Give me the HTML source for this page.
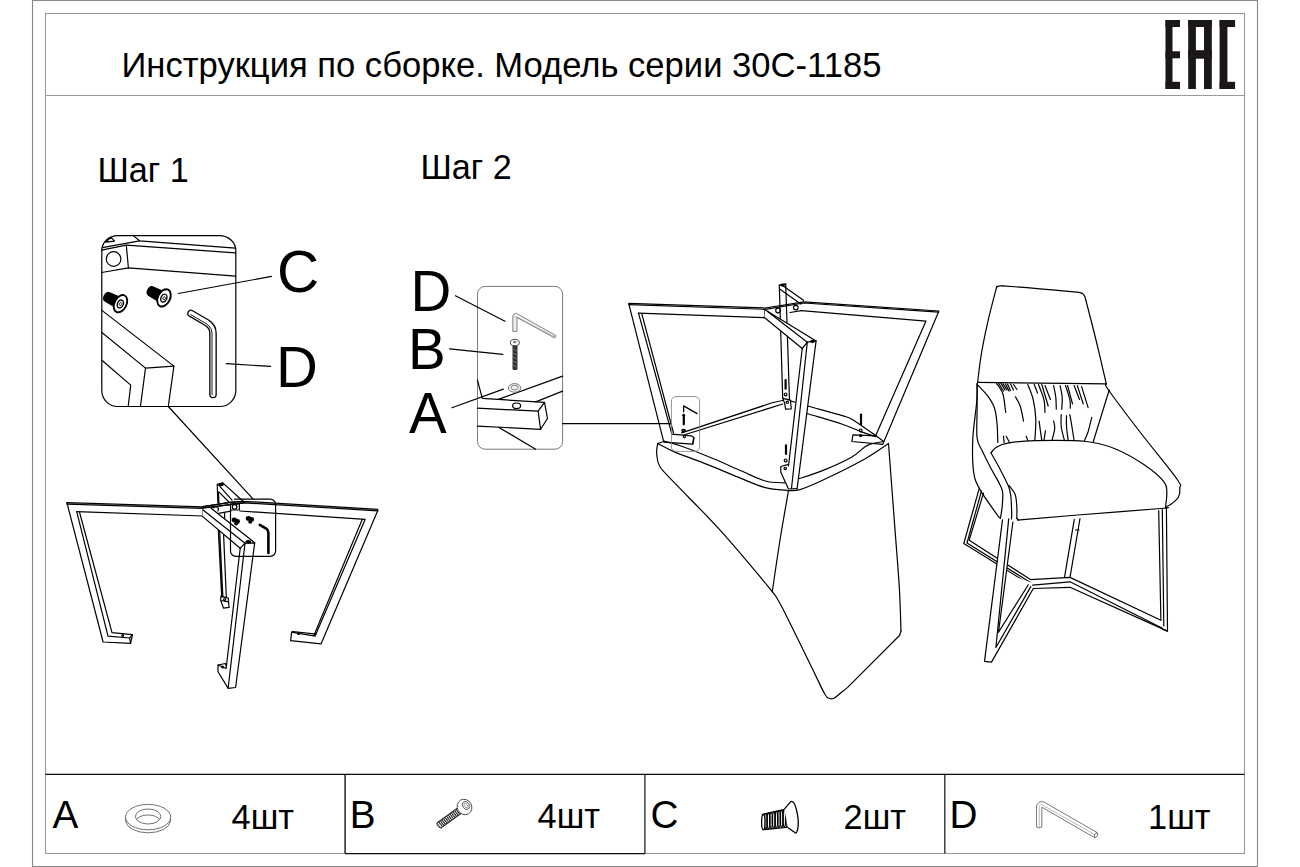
<!DOCTYPE html>
<html><head><meta charset="utf-8">
<style>
html,body{margin:0;padding:0;background:#fff;}
body{width:1300px;height:867px;position:relative;overflow:hidden;font-family:"Liberation Sans",sans-serif;color:#000;}
.t{position:absolute;white-space:nowrap;line-height:1;}
svg{position:absolute;left:0;top:0;}
</style></head><body>
<svg width="1300" height="867" viewBox="0 0 1300 867">
<g fill="none" stroke-width="1.1">
<rect x="32.5" y="0.5" width="1225" height="866" stroke="#888"/>
<rect x="45.5" y="13.5" width="1199" height="840" stroke="#999"/>
<line x1="45.5" y1="95.5" x2="1244.5" y2="95.5" stroke="#999"/>
</g>
<g fill="#1a1716">
<rect x="1165.5" y="20" width="7" height="69"/>
<rect x="1165.5" y="20" width="14.5" height="7"/>
<rect x="1165.5" y="51.3" width="14.5" height="7"/>
<rect x="1165.5" y="81.8" width="14.5" height="7.2"/>
<rect x="1188.2" y="20" width="7.7" height="69"/>
<rect x="1204" y="20" width="7.8" height="69"/>
<rect x="1188.2" y="20" width="23.6" height="7"/>
<rect x="1188.2" y="50.2" width="23.6" height="8.5"/>
<rect x="1219.6" y="20" width="7.8" height="69"/>
<rect x="1219.6" y="20" width="15.5" height="7"/>
<rect x="1219.6" y="81.8" width="15.5" height="7.2"/>
</g>

<!-- STEP1 inset -->
<g fill="none" stroke="#000" stroke-width="1.2" stroke-linejoin="round" stroke-linecap="round">
<path d="M117.5,235.6 H219.5 A16.3,15.2 0 0 1 235.8,250.8 V390.5 A16,16 0 0 1 219.8,406.5 H117.8 A16,16 0 0 1 101.8,390.5 V250.8 A15.7,15.2 0 0 1 117.5,235.6 Z"/>
<path d="M105.8,242.1 L111,237.2 L114.6,241.1 Z"/>
<path d="M133.3,235.6 L139.5,240.8 L235.5,248.2"/>
<path d="M102.4,247.6 L139.5,240.8"/>
<path d="M101.6,250.2 L126.3,245.2 L235.5,252.8"/>
<path d="M126.3,245.2 L128.4,267.8"/>
<path d="M101.6,272.5 L128.4,267.8 L235.5,276.2"/>
<circle cx="113.6" cy="259" r="7.3"/>
<path d="M101.9,310.4 L173.9,366.1 L145.5,368.1 L101.9,332.5"/>
<path d="M145.5,368.1 L140.4,406.5"/>
<path d="M173.9,366.1 L168.3,406.5"/>
<path d="M101.9,360.2 L130.7,385.1 L128.2,406.5"/>
<path d="M168.3,406.5 L252.9,498.8"/>
<path d="M178.3,293.5 L271.5,276.4"/>
<path d="M226.3,363.6 L270.6,366.4"/>
</g>



<g transform="translate(120.5,303.7) rotate(27)">
<path d="M-15.2,-4.8 L-3,-5.6 L-3,5.6 L-15.2,4.8 A3,4.8 0 0 1 -15.2,-4.8 Z" fill="#000" stroke="#000" stroke-width="1"/>
<ellipse cx="0" cy="0" rx="6" ry="9.2" fill="#fff" stroke="#000" stroke-width="1.9"/>
<ellipse cx="0" cy="0.3" rx="2.9" ry="4.1" fill="none" stroke="#000" stroke-width="1.3"/>
<ellipse cx="0.3" cy="0.3" rx="1.2" ry="1.6" fill="none" stroke="#000" stroke-width="0.8"/>
</g>
<g transform="translate(164,297.9) rotate(27)">
<path d="M-15.2,-4.8 L-3,-5.6 L-3,5.6 L-15.2,4.8 A3,4.8 0 0 1 -15.2,-4.8 Z" fill="#000" stroke="#000" stroke-width="1"/>
<ellipse cx="0" cy="0" rx="6" ry="9.2" fill="#fff" stroke="#000" stroke-width="1.9"/>
<ellipse cx="0" cy="0.3" rx="2.9" ry="4.1" fill="none" stroke="#000" stroke-width="1.3"/>
<ellipse cx="0.3" cy="0.3" rx="1.2" ry="1.6" fill="none" stroke="#000" stroke-width="0.8"/>
</g>
<g fill="none" stroke-linejoin="round">
<path d="M191,313.4 L207.3,323 Q213,326.7 213,333.5 L213,394.5" stroke="#000" stroke-width="7.6" stroke-linecap="round"/>
<path d="M191,313.4 L207.3,323 Q213,326.7 213,333.5 L213,394.5" stroke="#fff" stroke-width="5" stroke-linecap="round"/>
<path d="M190.5,314.5 L206.8,324 Q212,327.5 212,334 L212,395" stroke="#000" stroke-width="0.9"/>
</g>


<!-- STEP1 frame -->
<g fill="none" stroke="#000" stroke-width="1.2" stroke-linejoin="round" stroke-linecap="round">
<path d="M66.9,502.7 L203,506.8 M67,504.2 L203,508.3" />
<path d="M76.7,511.6 L202.7,516"/>
<path d="M202.7,507.5 V516.6"/>
<path d="M66.9,502.7 L103.1,642 L130.6,643.3 L132.5,634.7 L112,632.7 L79.6,512.5"/>
<path d="M76.7,511.6 L108,636.1 L129.6,638 L130.6,643.3 M129.6,638 L132.5,634.7"/>
<circle cx="122.7" cy="635.4" r="0.9"/>
<path d="M203,506.6 L230.2,502.3 L243.4,501.3 L377.8,509.4 M203,508.2 L243.4,502.8 L377.8,510.8"/>
<path d="M240,511 L365.1,519.4 L315.1,636.1 L291.6,632.2 L290.6,640.6 L321,643.9 L377.8,510.5"/>
<path d="M362.2,519.4 L314.1,635.1 M291.6,632.2 L293,631.5 L316,634.2"/>
<circle cx="298.4" cy="633.6" r="0.9"/>
<!-- back leg -->
<path d="M217.2,484.3 L217.9,503 M218.5,492.2 L218.9,503 M218.3,530 L221.7,597 M219.6,530 L222.9,597 M223.4,530 L226.3,596.5 M222.8,482.9 L217.2,484.3"/>
<path d="M220.8,596.2 L228.2,598.1 L229.1,607.3 L223.6,608.2 L220.8,600.8 Z M221,600.5 L228.6,601.8"/>
<circle cx="224.6" cy="599.5" r="1"/>
<!-- back top bar -->
<path d="M222.8,482.9 L242.5,500.8 M218.5,484.8 L232,500.2 M219.1,492.2 L228.9,502"/>
<path d="M218.5,513.4 L230.8,511.2 M224.6,513.1 V518.6"/>
<!-- occluder for front bar and leg -->
<path d="M202.5,508.6 L211.1,507.6 L254.7,542.8 L235.6,687.5 L228.2,688.4 L218,671.8 L218,665 L226.3,667.2 L240.2,548.3 L202.5,516.6 Z" fill="#fff" stroke="none"/>
<!-- front top diagonal bar -->
<path d="M211.1,508.2 L254.7,542.8 M203.1,510 L245,543.2 M202.5,516.4 L240.2,548.3"/>
<!-- front leg -->
<path d="M245,543.2 L254.7,542.8 L235.6,687.5 L228.2,688.4 L218,671.8 L218,665 L225.4,663.5 L226.6,667"/>
<path d="M240.2,548.3 L245,543.2 L228.2,687.8"/>
<path d="M240.2,548.3 L226.3,667.2 M218,665 L226.2,668.5"/>
<circle cx="222.6" cy="667" r="1"/>
<ellipse cx="248.3" cy="541.8" rx="2.3" ry="1.3" fill="#000"/>
<ellipse cx="221.3" cy="484.6" rx="2" ry="1.1" fill="#000"/>
<!-- top lines re-drawn over occluder -->
<path d="M203,506.6 L230.2,502.3 L243.4,501.3 M203,508.2 L243.4,502.8"/>
<!-- detail box -->
<path d="M230.5,530 V551 A5.3,5.3 0 0 0 235.8,556.3 H270.3 A5.3,5.3 0 0 0 275.6,551 V504.5 A5.3,5.3 0 0 0 270.3,499.2 H234.5"/>
<path d="M230.5,503.8 H239.4 V510 H230.5 Z M230.5,510 V530"/>
<circle cx="234.6" cy="506.9" r="2.3"/>
<path d="M213.5,507.8 A2.5,2.5 0 0 1 217.8,511"/>
<path d="M259.8,524.8 L266.2,528.6 Q268.4,530.5 268.4,533 L268.4,553" stroke-width="2.6"/>
</g>
<g fill="#000">
<ellipse cx="234.3" cy="520" rx="2.6" ry="2.4"/>
<ellipse cx="237.5" cy="521.4" rx="2.5" ry="2.3"/>
<ellipse cx="236.2" cy="523.6" rx="2" ry="1.9"/>
<ellipse cx="248.4" cy="518.4" rx="2.6" ry="2.4"/>
<ellipse cx="251.6" cy="519.4" rx="2.5" ry="2.3"/>
<ellipse cx="250.2" cy="521.8" rx="2" ry="1.9"/>
</g>


<!-- STEP2 inset -->
<rect x="477.5" y="286.4" width="85.1" height="162.8" rx="7.6" fill="none" stroke="#7a7a7a" stroke-width="1"/>
<g fill="none" stroke="#000" stroke-width="1.2" stroke-linejoin="round" stroke-linecap="round">
<path d="M455.4,295.8 L505,321.2"/>
<path d="M449.6,348.9 L502.8,354.3"/>
<path d="M451.9,407.7 L503.3,389.1"/>
<path d="M477.4,379.8 L482.3,398.4 L544.5,402.4 L547.5,418.5 L540.6,429.3 L477.4,426.1"/>
<path d="M498.4,399.4 L562.6,376.1 M535.7,401.9 L562.6,391.1"/>
<path d="M477.4,408.2 L538.1,411.2 L544.5,402.4 M538.1,411.2 L540.6,429.3"/>
<path d="M498.9,427.4 L535.7,449.2"/>
<ellipse cx="516.6" cy="405.8" rx="4" ry="2.8"/>
<path d="M562.6,423.7 L670.7,423.7"/>
</g>
<ellipse cx="514.6" cy="387.9" rx="6.2" ry="4.3" fill="#f2f2f2" stroke="#777" stroke-width="1"/>
<ellipse cx="514.6" cy="387.6" rx="3.6" ry="2.2" fill="none" stroke="#777" stroke-width="0.9"/>
<!-- hex key small -->
<g fill="#eee" stroke="#666" stroke-width="0.8" stroke-linejoin="round">
<path d="M512.8,331.4 L512.8,316 Q513.5,313.3 516.5,313.4 L556,335.6 L554.6,338 L517,317.2 L517,331.4 Z"/>
<path d="M514.5,316.5 L555,337" fill="none" stroke="#888" stroke-width="0.6"/>
</g>
<!-- screw B small -->
<rect x="512.5" y="345" width="5" height="25" rx="1.5" fill="#333"/>
<path d="M513,349 l4,2 M513,353 l4,2 M513,357 l4,2 M513,361 l4,2 M513,365 l4,2" stroke="#999" stroke-width="0.6"/>
<ellipse cx="514.8" cy="342.6" rx="4.5" ry="3.2" fill="#fff" stroke="#444" stroke-width="1"/>
<ellipse cx="514.8" cy="342" rx="1.8" ry="1.2" fill="#888"/>

<!-- STEP2CHAIR -->
<g fill="none" stroke="#000" stroke-width="1.2" stroke-linejoin="round" stroke-linecap="round">
<path d="M628.8,303.3 L765.3,308.0 L803.8,301.8 L938.7,311.0"/>
<path d="M628.8,304.6 L765.3,309.3 L803.8,303.0 L938.7,312.2"/>
<path d="M638.5,313.1 L764.2,317.7"/>
<path d="M765.3,308.6 L764.2,317.7"/>
<path d="M628.8,303.8 L663.8,442.2 L692.7,444.2 L694.2,437.7 L691.3,435.8 L671.9,434.2 L638.5,313.1"/>
<path d="M641.9,314.2 L673.5,433.0"/>
<path d="M692.7,444.2 L693.5,438.5"/>
<path d="M779.3,285.1 L782.7,398.3"/>
<path d="M785.7,283.8 L789.5,400.0"/>
<path d="M779.3,285.1 L785.7,283.8"/>
<path d="M782.7,398.3 L790.4,400.2 L791.3,408.8 L785.6,409.2 L784.6,403.1 L782.7,398.3"/>
<path d="M781.9,285.1 L803.5,300.3"/>
<path d="M779.6,288.9 L800.9,304.1"/>
<path d="M801.5,310.7 L926.0,321.1 L875.3,436.4"/>
<path d="M790.0,312.5 L801.5,310.7"/>
<path d="M938.7,311.4 L882.7,444.4 L851.9,441.5 L852.9,434.8 L876.0,435.8 L883.7,441.5"/>
<path d="M681.7,432.9 L773.0,402.5 L782.7,400.5"/>
<path d="M684.6,434.8 L782.7,404.0"/>
<path d="M791.3,401.2 C794.0,402.0 799.2,403.6 807.7,406.0 C816.2,408.4 834.6,413.2 842.3,415.6 C850.0,418.0 848.2,417.0 853.8,420.4 C859.4,423.8 872.3,433.2 876.0,435.8"/>
<path d="M800.0,411.0 C801.3,411.4 800.7,411.5 807.7,413.7 C814.8,415.9 833.3,421.2 842.3,424.2 C851.3,427.2 855.9,429.8 861.5,431.9 C867.1,434.0 873.6,435.9 876.0,436.7"/>
<path d="M664.4,441.2 C667.3,442.1 673.5,443.4 681.7,446.3 C689.9,449.2 703.4,454.6 713.5,458.8 C723.6,463.0 733.6,467.6 742.3,471.3 C750.9,475.0 758.3,479.1 765.4,481.0 C772.5,482.9 781.4,482.6 784.6,482.9"/>
<path d="M657.7,443.5 C660.6,444.9 666.7,448.6 675.0,452.1 C683.3,455.6 696.8,460.3 707.7,464.6 C718.6,468.9 730.8,474.2 740.4,478.1 C750.0,482.0 757.4,485.6 765.4,487.7 C773.4,489.8 784.6,490.1 788.5,490.6"/>
<path d="M798.1,479.0 C802.3,477.6 814.1,474.1 823.1,470.4 C832.1,466.7 844.5,461.1 851.9,456.9 C859.3,452.7 862.0,448.0 867.3,445.4 C872.6,442.8 881.0,442.1 883.7,441.5"/>
<path d="M788.5,490.6 C790.4,490.4 794.2,491.4 800.0,489.6 C805.8,487.8 812.9,484.8 823.1,480.0 C833.4,475.2 850.6,466.9 861.5,460.8 C872.4,454.7 884.0,446.4 888.5,443.5"/>
<path d="M657.7,443.5 L664.4,441.2"/>
<path d="M657.7,443.5 C657.5,445.2 656.3,449.6 656.7,453.5 C657.1,457.4 656.6,461.5 660.0,466.8 C663.4,472.1 666.8,474.6 676.8,485.2 C686.8,495.8 705.0,513.4 720.3,530.4 C735.6,547.4 759.2,575.7 768.8,587.3 C778.4,598.9 774.9,595.0 778.0,600.0 C781.1,605.0 781.5,606.1 787.2,617.4 C792.9,628.7 805.8,655.3 812.0,668.0 C818.2,680.7 821.7,688.5 824.5,693.5 C827.3,698.5 827.4,697.5 829.0,698.3 C830.6,699.1 832.2,699.1 834.0,698.3 C835.8,697.5 839.0,694.3 840.0,693.5"/>
<path d="M840.0,693.5 L847.4,687.6 L899.5,635.5 L901.0,631.0"/>
<path d="M901.0,631.0 C900.7,623.7 900.4,605.7 899.3,587.3 C898.2,568.9 896.1,544.4 894.3,520.4 C892.5,496.4 889.5,456.3 888.5,443.5"/>
<path d="M788.5,490.6 C787.1,498.8 782.7,523.1 780.0,540.0 C777.3,556.9 773.5,583.3 772.2,592.0"/>
<path d="M765.4,309.6 L816.1,340.9 L797.1,488.7 L788.5,489.5 L780.8,472.3 L780.8,466.5 L787.5,464.6 L802.2,348.5 L764.1,317.2 Z" fill="#fff" stroke="none"/>
<path d="M765.4,310.0 L816.1,340.9"/>
<path d="M767.9,311.7 L807.3,342.2"/>
<path d="M764.1,317.2 L802.2,348.5"/>
<path d="M807.3,342.2 L816.1,340.9 L797.1,488.7"/>
<path d="M802.2,348.5 L807.3,342.2 L791.5,488.5"/>
<path d="M802.2,348.5 L788.5,466.0"/>
<path d="M787.5,464.6 L780.8,466.5 L780.8,472.3 L788.5,489.0 L797.1,488.7"/>
<path d="M683.6,411.7 L683.6,405.9 L697.1,413.6" stroke-width="1.3"/>
<path d="M683.8,415.5 V424.3" stroke-width="2.2"/><path d="M682.6,415.5 L685,415.5 L683.8,414 Z" fill="#000" stroke-width="0.8"/>
<ellipse cx="683.6" cy="430.5" rx="1.8" ry="1.1" fill="#333"/>
<circle cx="684.4" cy="436.5" r="1.1"/>
<path d="M785.6,380 V388.7" stroke-width="2.2"/>
<circle cx="785.6" cy="394.4" r="1.4"/>
<circle cx="787.3" cy="402.3" r="1.2"/>
<path d="M861,414.6 V424.2" stroke-width="2.2"/>
<circle cx="860.6" cy="430.4" r="1.4"/>
<circle cx="860.6" cy="435.6" r="1.1"/>
<path d="M786,445.4 V454" stroke-width="2.2"/>
<circle cx="785.6" cy="460.4" r="1.4"/>
<circle cx="785.2" cy="468.5" r="1.2"/>
<circle cx="778" cy="310.5" r="2.3"/>
<circle cx="795.8" cy="307.6" r="2.3"/>
<ellipse cx="812.5" cy="341.3" rx="1.8" ry="1" fill="#000"/>
<ellipse cx="782.5" cy="285" rx="1.8" ry="1" fill="#000"/>
</g>
<rect x="671.4" y="396.6" width="28.2" height="54.8" rx="4.5" fill="none" stroke="#888" stroke-width="0.9"/>
<!-- /STEP2CHAIR -->
<!-- CHAIR -->
<g fill="none" stroke="#000" stroke-width="1.2" stroke-linejoin="round" stroke-linecap="round">
<path d="M977.6,382.4 C978.2,377.6 979.7,363.8 981.4,353.7 C983.1,343.6 985.4,332.6 987.8,321.9 C990.2,311.2 994.5,295.2 996.0,289.5 C997.5,283.8 996.2,288.0 996.6,287.4 C997.0,286.8 997.5,286.4 998.6,286.1 C999.7,285.8 1002.3,285.9 1003.0,285.8"/>
<path d="M1003.0,285.8 C1009.2,286.3 1027.3,287.7 1040.0,288.8 C1052.7,289.9 1072.5,291.8 1079.0,292.4"/>
<path d="M1079.0,292.4 C1079.6,292.6 1081.5,292.9 1082.5,293.6 C1083.5,294.3 1084.2,295.4 1084.8,296.5 C1085.3,297.6 1085.6,299.4 1085.8,300.0"/>
<path d="M1085.8,300.0 C1087.5,306.7 1092.6,326.0 1096.0,340.0 C1099.4,354.0 1104.6,376.5 1106.3,383.8"/>
<path d="M977.6,382.4 C988.0,382.5 1018.5,383.0 1040.0,383.2 C1061.5,383.4 1095.2,383.7 1106.3,383.8"/>
<path d="M1106.3,383.8 C1106.7,384.8 1102.9,382.0 1108.5,390.0 C1114.1,398.0 1128.6,417.2 1140.0,432.0 C1151.4,446.8 1170.3,469.7 1176.9,479.0 C1183.5,488.3 1179.5,484.6 1179.8,487.6 C1180.1,490.6 1179.8,494.4 1178.5,497.0 C1177.2,499.6 1174.0,501.9 1172.0,503.5 C1170.0,505.1 1167.7,505.9 1166.8,506.4"/>
<path d="M1109.2,390.0 L1093.3,441.5"/>
<path d="M977.1,383.6 C977.0,386.5 977.5,391.7 976.8,400.9 C976.1,410.1 973.3,427.2 972.8,439.0 C972.3,450.8 972.5,463.4 973.6,471.8 C974.8,480.2 976.0,482.2 979.7,489.1 C983.5,496.0 992.7,508.4 996.1,513.3 C999.5,518.2 999.7,517.5 1000.4,518.4"/>
<path d="M977.1,383.6 C977.1,388.0 977.1,400.9 977.1,410.0 C977.1,419.1 976.2,431.3 977.1,438.1 C978.0,444.9 980.0,446.0 982.3,451.0 C984.6,456.0 988.0,462.8 990.9,468.3 C993.8,473.8 997.6,479.9 999.6,483.9 C1001.6,487.9 1002.3,488.8 1002.7,492.5 C1003.1,496.2 1002.6,502.1 1002.2,506.4 C1001.8,510.7 1000.7,516.4 1000.4,518.4"/>
<path d="M978.0,385.4 C979.6,387.1 984.8,392.0 987.5,395.7 C990.2,399.4 992.8,403.2 994.4,407.8 C996.0,412.4 996.4,417.6 997.0,423.4 C997.6,429.2 997.7,439.2 997.8,442.4"/>
<path d="M990.9,452.8 C991.8,451.9 993.5,449.2 996.1,447.6 C998.7,446.0 1000.0,444.5 1006.5,443.3 C1013.0,442.1 1021.7,441.0 1035.0,440.7 C1048.3,440.4 1072.8,440.2 1086.1,441.5 C1099.4,442.8 1105.3,444.9 1114.9,448.7 C1124.5,452.5 1135.6,459.0 1143.8,464.5 C1152.0,470.0 1160.2,477.0 1164.0,481.8 C1167.8,486.6 1166.6,489.1 1166.8,493.4 C1167.0,497.7 1165.6,505.4 1165.4,507.8"/>
<path d="M990.9,452.8 C992.4,455.4 996.7,462.8 999.6,468.3 C1002.5,473.8 1006.3,481.0 1008.2,485.6 C1010.1,490.2 1010.2,491.4 1010.8,496.0 C1011.4,500.6 1011.6,509.5 1011.7,513.3 C1011.8,517.1 1011.5,518.0 1011.5,519.0"/>
<path d="M1009.1,485.6 C1010.1,487.1 1013.8,490.8 1015.1,494.3 C1016.4,497.8 1016.5,502.4 1016.8,506.4 C1017.1,510.4 1016.8,516.4 1016.8,518.4"/>
<path d="M1016.8,518.4 C1017.2,518.7 1018.0,519.8 1019.0,520.0 C1020.0,520.2 1013.2,520.4 1023.0,519.6 C1032.8,518.8 1054.7,516.9 1077.7,515.0 C1100.7,513.1 1146.3,509.7 1160.9,508.5 C1175.5,507.3 1164.7,507.9 1165.4,507.8"/>
<path d="M996.5,383.4 C997.6,385.2 1001.5,389.3 1003.0,394.2 C1004.5,399.1 1005.2,409.4 1005.7,412.5"/>
<path d="M998.7,383.4 C999.5,384.7 1002.7,389.7 1003.5,391.0"/>
<path d="M1001.0,383.4 C1001.7,384.5 1004.3,388.9 1005.0,390.0"/>
<path d="M1003.0,383.8 C1003.7,384.8 1006.3,389.0 1007.0,390.0"/>
<path d="M1005.5,384.0 C1006.1,385.2 1008.4,389.8 1009.0,391.0"/>
<path d="M1007.5,384.0 C1008.0,385.1 1010.0,389.4 1010.5,390.5"/>
<path d="M1010.5,384.0 C1011.0,385.0 1013.0,389.0 1013.5,390.0"/>
<path d="M1013.5,384.5 C1014.1,385.3 1016.4,388.7 1017.0,389.5"/>
<path d="M1015.4,396.8 C1016.2,398.3 1018.9,401.9 1020.2,406.0 C1021.6,410.1 1023.0,418.6 1023.5,421.1"/>
<path d="M1027.8,384.5 C1028.7,387.0 1031.9,393.8 1033.2,399.5 C1034.5,405.2 1035.5,412.1 1035.8,418.9 C1036.1,425.7 1035.0,436.9 1034.8,440.5"/>
<path d="M1034.2,384.5 C1034.8,385.9 1037.0,391.7 1037.5,393.1"/>
<path d="M1038.5,384.5 C1039.4,387.0 1042.8,394.8 1043.9,399.5 C1045.0,404.2 1044.8,410.3 1045.0,412.5"/>
<path d="M1041.8,384.5 C1042.9,388.1 1047.1,402.4 1048.2,406.0"/>
<path d="M1045.0,385.5 C1045.9,387.8 1049.5,397.2 1050.4,399.5"/>
<path d="M1053.6,385.5 C1054.0,387.5 1055.3,393.4 1055.8,397.4 C1056.2,401.3 1056.2,407.2 1056.3,409.2"/>
<path d="M1060.1,385.5 C1060.4,387.5 1061.9,393.4 1062.2,397.4 C1062.5,401.3 1061.8,407.2 1061.7,409.2"/>
<path d="M1065.5,385.5 C1066.2,387.8 1069.0,395.7 1069.8,399.5 C1070.6,403.3 1070.2,406.8 1070.3,408.2"/>
<path d="M1067.6,385.5 C1068.4,388.6 1071.7,400.8 1072.5,403.8"/>
<path d="M1074.1,385.5 C1075.0,387.8 1078.6,397.2 1079.5,399.5"/>
<path d="M1077.3,385.5 C1078.3,388.6 1082.2,400.8 1083.2,403.8"/>
<path d="M1081.6,386.6 C1082.7,390.1 1087.0,404.1 1088.1,407.6"/>
<path d="M1039.1,421.1 C1039.5,424.3 1041.3,437.3 1041.8,440.5"/>
<path d="M1045.5,430.8 C1045.2,432.4 1044.2,438.9 1043.9,440.5"/>
<path d="M1053.6,421.1 C1053.8,422.4 1055.0,425.4 1054.7,428.6 C1054.4,431.8 1052.5,438.5 1052.0,440.5"/>
<path d="M1061.2,414.6 C1061.2,416.6 1060.7,422.2 1061.2,426.5 C1061.7,430.8 1063.9,438.2 1064.4,440.5"/>
<path d="M1066.5,415.7 C1066.5,417.5 1066.2,422.4 1066.5,426.5 C1066.8,430.6 1067.9,438.2 1068.2,440.5"/>
<path d="M1069.8,414.6 C1070.2,416.6 1071.2,422.2 1071.9,426.5 C1072.6,430.8 1073.7,438.2 1074.1,440.5"/>
<path d="M1091.8,417.3 C1091.2,419.7 1089.3,427.9 1088.1,431.8 C1086.8,435.7 1084.9,439.4 1084.3,440.9"/>
<path d="M1003.5,436.2 C1003.6,437.3 1004.0,441.5 1004.1,442.6"/>
<path d="M1006.2,436.2 C1006.8,437.3 1009.0,441.5 1009.5,442.6"/>
<path d="M1026.2,436.2 C1026.5,436.9 1027.5,439.8 1027.8,440.5"/>
<path d="M979.1,488.8 L963.8,543.5 L1027.3,582.9"/>
<path d="M981.5,491.0 L967.0,543.0 L1030.0,582.3"/>
<path d="M983.5,493.1 L969.2,540.2 L1030.5,579.6 L1070.0,577.4 L1160.9,620.2"/>
<path d="M1032.7,585.1 L1070.0,581.8 L1162.0,628.0"/>
<path d="M1033.3,588.5 L1070.0,587.3 L1167.5,631.1"/>
<path d="M1074.3,519.4 L1064.5,577.4"/>
<path d="M1080.0,518.5 L1070.0,577.4"/>
<path d="M1075.5,530.0 L1079.0,530.0"/>
<path d="M1158.7,510.7 L1160.9,620.2"/>
<path d="M1162.3,509.5 L1163.8,626.0"/>
<path d="M1166.4,507.4 L1167.5,631.1 L1162.5,629.2"/>
<path d="M1002.5,519.9 L1012.9,521.0 L1006.1,574.0 L1030.0,582.0 L1033.3,588.5 L991.5,662.1 L984.5,661.4 Z" fill="#fff" stroke="none"/>
<path d="M1002.5,519.9 L984.5,661.4 L991.5,662.1 L1033.3,588.5"/>
<path d="M1008.7,518.9 L995.9,647.5 L1030.8,586.6"/>
<path d="M1012.9,522.0 L1006.1,574.0 L998.5,632.3 L1028.3,584.7"/>
</g>
<!-- /CHAIR -->
<!-- TABLE -->
<g fill="none" stroke="#555" stroke-width="0.85">
<path d="M125.6,818.5 L125.6,821.3 A22.6,12.7 0 0 0 170.6,821.3 L170.6,818.5"/>
<ellipse cx="148.1" cy="817.1" rx="22.6" ry="12.7"/>
<ellipse cx="148.1" cy="816.5" rx="12.7" ry="7.5"/>
<path d="M137.2,819.5 A11,5.2 0 0 1 159,819.5"/>
</g>
<g transform="translate(464.4,807.1) rotate(144.2)">
<path d="M5,-3.4 L31,-3.4 A1.6,3.4 0 0 1 31,3.4 L5,3.4 Z" fill="#fff" stroke="#333" stroke-width="0.8"/>
<g fill="none" stroke="#222" stroke-width="0.8"><ellipse cx="7.00" cy="0" rx="1.3" ry="3.3"/><ellipse cx="8.95" cy="0" rx="1.3" ry="3.3"/><ellipse cx="10.90" cy="0" rx="1.3" ry="3.3"/><ellipse cx="12.85" cy="0" rx="1.3" ry="3.3"/><ellipse cx="14.80" cy="0" rx="1.3" ry="3.3"/><ellipse cx="16.75" cy="0" rx="1.3" ry="3.3"/><ellipse cx="18.70" cy="0" rx="1.3" ry="3.3"/><ellipse cx="20.65" cy="0" rx="1.3" ry="3.3"/><ellipse cx="22.60" cy="0" rx="1.3" ry="3.3"/><ellipse cx="24.55" cy="0" rx="1.3" ry="3.3"/><ellipse cx="26.50" cy="0" rx="1.3" ry="3.3"/><ellipse cx="28.45" cy="0" rx="1.3" ry="3.3"/><ellipse cx="30.40" cy="0" rx="1.3" ry="3.3"/></g>
</g>
<ellipse cx="464.5" cy="807" rx="7.2" ry="7.9" transform="rotate(-30 464.5 807)" fill="#fff" stroke="#444" stroke-width="0.85"/>
<ellipse cx="466" cy="805.5" rx="3.3" ry="4.3" transform="rotate(-35 466 805.5)" fill="none" stroke="#444" stroke-width="0.8"/>
<ellipse cx="466" cy="805.5" rx="1.6" ry="2.5" transform="rotate(-35 466 805.5)" fill="none" stroke="#666" stroke-width="0.6"/>
<g>
<path d="M762.4,814.3 L785.5,809.3 L787.5,827.3 L764.9,829.7 Z" fill="#fff" stroke="#000" stroke-width="1.2"/>
<g fill="none" stroke="#000" stroke-width="1.35"><ellipse cx="765.80" cy="821.35" rx="1.3" ry="7.79"/><ellipse cx="768.45" cy="820.90" rx="1.3" ry="7.92"/><ellipse cx="771.10" cy="820.45" rx="1.3" ry="8.05"/><ellipse cx="773.75" cy="820.00" rx="1.3" ry="8.19"/><ellipse cx="776.40" cy="819.55" rx="1.3" ry="8.32"/><ellipse cx="779.05" cy="819.10" rx="1.3" ry="8.45"/><ellipse cx="781.70" cy="818.65" rx="1.3" ry="8.58"/><ellipse cx="784.35" cy="818.20" rx="1.3" ry="8.72"/><ellipse cx="787.00" cy="817.75" rx="1.3" ry="8.85"/></g>
<ellipse cx="763.3" cy="822.3" rx="1.7" ry="7.6" fill="#fff" stroke="#000" stroke-width="1.3"/>
<path d="M784.3,809.1 L791,801.4 Q794.5,801 796.5,810 Q799.5,822 797.5,830 Q796.5,833.5 795.5,833 L787.7,827.5" fill="#fff" stroke="#000" stroke-width="1.3" stroke-linejoin="round"/>
</g>
<g fill="#fff" stroke="#555" stroke-width="0.8" stroke-linejoin="round">
<path d="M1036.5,827 L1036.5,806 Q1037,802.5 1041.6,801.5 L1044,802 L1097,832.5 Q1098,835.5 1094.6,837.6 L1041.8,807.2 L1041.8,827 Q1039.2,828.7 1036.5,827 Z"/>
<path d="M1039.2,805 L1039.2,827.8 M1040.5,804 L1095.5,835" fill="none" stroke="#888" stroke-width="0.6"/>
<ellipse cx="1096" cy="835.2" rx="1.4" ry="2.4" transform="rotate(30 1096 835.2)"/>
</g>
<!-- /TABLE -->
<!-- bottom table -->
<g fill="none" stroke-width="1.3">
<line x1="45.5" y1="774.4" x2="1244.5" y2="774.4" stroke="#0a0a0a"/>
<line x1="345.1" y1="774.5" x2="345.1" y2="853.6" stroke="#222" stroke-width="1.5"/>
<line x1="644.9" y1="774.5" x2="644.9" y2="853.6" stroke="#222"/>
<line x1="944.8" y1="774.5" x2="944.8" y2="853.6" stroke="#222"/>
<line x1="345.1" y1="853.6" x2="644.9" y2="853.6" stroke="#111"/>
</g>
</svg>
<div class="t" style="left:121.5px;top:47.5px;font-size:34.6px;">Инструкция по сборке. Модель серии 30C-1185</div>
<div class="t" style="left:97.5px;top:152.6px;font-size:34.2px;">Шаг 1</div>
<div class="t" style="left:420.5px;top:149.8px;font-size:34.2px;">Шаг 2</div>
<div class="t" style="left:52.5px;top:795.5px;font-size:38.7px;">A</div>
<div class="t" style="left:231.5px;top:799.5px;font-size:34.4px;">4шт</div>
<div class="t" style="left:349.8px;top:795.7px;font-size:38.7px;">B</div>
<div class="t" style="left:537.5px;top:798.5px;font-size:34.4px;">4шт</div>
<div class="t" style="left:650.5px;top:795.5px;font-size:38.7px;">C</div>
<div class="t" style="left:843.5px;top:799.5px;font-size:34.4px;">2шт</div>
<div class="t" style="left:949.5px;top:795.5px;font-size:38.7px;">D</div>
<div class="t" style="left:1148px;top:799.5px;font-size:34.4px;">1шт</div>
<div class="t" style="left:277px;top:242.5px;font-size:58.5px;">C</div>
<div class="t" style="left:276px;top:337.5px;font-size:58px;">D</div>
<div class="t" style="left:410.5px;top:263.5px;font-size:56.5px;">D</div>
<div class="t" style="left:408px;top:321.5px;font-size:56.5px;">B</div>
<div class="t" style="left:409px;top:386px;font-size:56.5px;">A</div>
</body></html>
